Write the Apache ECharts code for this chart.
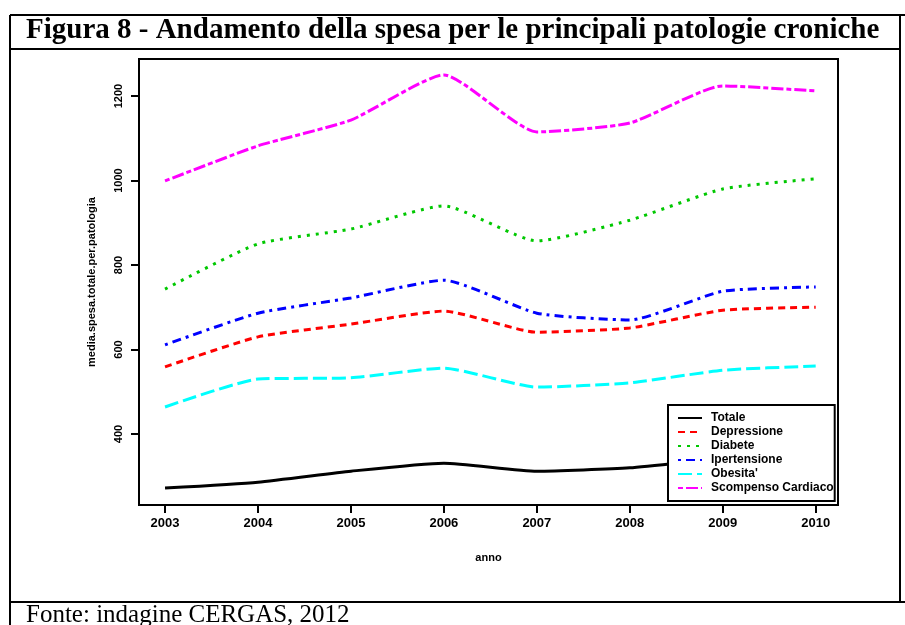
<!DOCTYPE html>
<html><head><meta charset="utf-8">
<script src="https://cdn.jsdelivr.net/npm/echarts@6/dist/echarts.min.js"></script>
<style>html,body{margin:0;padding:0;background:#fff}#c{width:905px;height:625px}</style>
</head><body><div id="c"></div>
<script>
const years = [2003, 2004, 2005, 2006, 2007, 2008, 2009, 2010];
const yTicks = [400, 600, 800, 1000, 1200];
const totale = [272, 286, 312, 331, 312, 320, 343, 357];
const depressione = [559, 630, 660, 691, 641, 651, 693, 700];
const diabete = [743, 850, 885, 940, 857, 906, 980, 1004];
const ipertensione = [611, 686, 722, 764, 686, 670, 738, 748];
const obesita = [464, 530, 533, 556, 511, 521, 551, 561];
const scompenso = [999, 1082, 1143, 1250, 1115, 1136, 1224, 1212];

const seriesDefs = [
  {name: 'Totale', data: totale, color: '#000000', type: 'solid'},
  {name: 'Depressione', data: depressione, color: '#FF0000', type: [7, 5]},
  {name: 'Diabete', data: diabete, color: '#00C800', type: [3, 6]},
  {name: 'Ipertensione', data: ipertensione, color: '#0000FF', type: [3, 5, 9, 5]},
  {name: "Obesita'", data: obesita, color: '#00FFFF', type: [14, 5]},
  {name: 'Scompenso Cardiaco', data: scompenso, color: '#FF00FF', type: [5, 3, 12, 3]}
];

const chart = echarts.init(document.getElementById('c'), null, {renderer: 'canvas'});
const lab = {fontFamily: 'Liberation Sans, Arial, sans-serif', fontWeight: 'bold', color: '#000'};
chart.setOption({
  animation: false,
  backgroundColor: '#fff',
  grid: {left: 139, right: 67, top: 59, bottom: 120, show: true, borderColor: '#000', borderWidth: 2, backgroundColor: 'transparent'},
  xAxis: {
    type: 'value', min: 2002.72, max: 2010.24,
    name: 'anno', nameLocation: 'middle', nameGap: 47,
    nameTextStyle: Object.assign({fontSize: 11}, lab),
    axisLine: {show: false},
    splitLine: {show: false},
    axisTick: {show: true, inside: false, length: 8, lineStyle: {color: '#000', width: 2}, customValues: years},
    axisLabel: Object.assign({fontSize: 13, margin: 12, customValues: years, formatter: v => String(v)}, lab)
  },
  yAxis: {
    type: 'value', min: 232, max: 1287.6,
    name: 'media.spesa.totale.per.patologia', nameLocation: 'middle', nameGap: 42,
    nameTextStyle: Object.assign({fontSize: 11}, lab),
    axisLine: {show: false},
    splitLine: {show: false},
    axisTick: {show: true, inside: false, length: 8, lineStyle: {color: '#000', width: 2}, customValues: yTicks},
    axisLabel: Object.assign({fontSize: 11, margin: 15, rotate: 90, customValues: yTicks, formatter: v => String(v)}, lab)
  },
  legend: {
    orient: 'vertical', left: 668, top: 405,
    padding: [6, 1, 6, 9],
    itemGap: 0, itemWidth: 24, itemHeight: 14,
    borderColor: '#000', borderWidth: 2, backgroundColor: '#fff',
    itemStyle: {opacity: 0},
    textStyle: Object.assign({fontSize: 12, lineHeight: 14, padding: [0, 0, 0, 4]}, lab),
    data: seriesDefs.map(s => s.name)
  },
  series: seriesDefs.map(s => ({
    name: s.name, type: 'line', smooth: 0.18, symbol: 'none', showSymbol: false,
    data: years.map((y, i) => [y, s.data[i]]),
    lineStyle: {color: s.color, width: 3, type: s.type},
    itemStyle: {color: s.color}
  })),
  graphic: [
    {type: 'line', shape: {x1: 10, y1: 15, x2: 905, y2: 15}, style: {stroke: '#000', lineWidth: 2}},
    {type: 'line', shape: {x1: 10, y1: 49, x2: 900, y2: 49}, style: {stroke: '#000', lineWidth: 2}},
    {type: 'line', shape: {x1: 10, y1: 15, x2: 10, y2: 625}, style: {stroke: '#000', lineWidth: 2}},
    {type: 'line', shape: {x1: 900, y1: 15, x2: 900, y2: 602}, style: {stroke: '#000', lineWidth: 2}},
    {type: 'line', shape: {x1: 10, y1: 602, x2: 905, y2: 602}, style: {stroke: '#000', lineWidth: 2}},
    {type: 'text', left: 26, top: 16, style: {text: 'Figura 8 - Andamento della spesa per le principali patologie croniche', font: 'bold 29px "Liberation Serif", serif', fill: '#000'}},
    {type: 'text', left: 26, top: 603, style: {text: 'Fonte: indagine CERGAS, 2012', font: '25px "Liberation Serif", serif', fill: '#000'}}
  ]
});
</script></body></html>
